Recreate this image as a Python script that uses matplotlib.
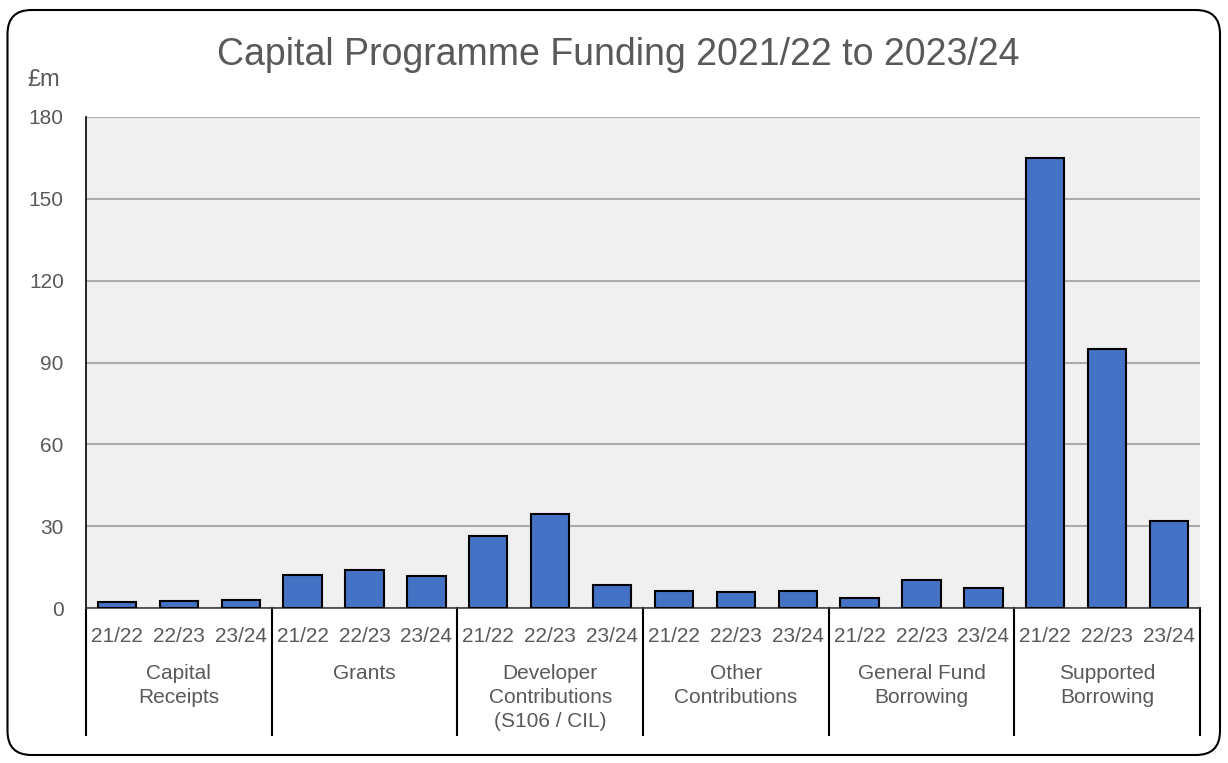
import matplotlib
matplotlib.use("Agg")
import matplotlib.pyplot as plt
from matplotlib.patches import FancyBboxPatch
import matplotlib.transforms as mtransforms

plt.rcParams['font.family'] = ['Liberation Sans', 'DejaVu Sans']

title = "Capital Programme Funding 2021/22 to 2023/24"
years = ["21/22", "22/23", "23/24"]
groups = ["Capital\nReceipts", "Grants", "Developer\nContributions\n(S106 / CIL)",
          "Other\nContributions", "General Fund\nBorrowing", "Supported\nBorrowing"]
capital_receipts = [2.2, 2.7, 2.8]
grants = [12.1, 13.8, 11.6]
developer_contrib = [26.4, 34.3, 8.3]
other_contrib = [6.3, 5.9, 6.1]
general_fund_borrowing = [3.7, 10.3, 7.3]
supported_borrowing = [164.8, 95.1, 32.0]
y_ticks = [0, 30, 60, 90, 120, 150, 180]

series = [capital_receipts, grants, developer_contrib, other_contrib,
          general_fund_borrowing, supported_borrowing]
values = [v for s in series for v in s]
labels = years * len(groups)
xpos = list(range(len(values)))

W, H = 1228, 763
fig = plt.figure(figsize=(W / 100, H / 100), dpi=100)
ax = fig.add_axes([86 / W, 1 - 608 / H, (1200 - 86) / W, (608 - 117) / H])

txt = '#595959'
ax.set_facecolor('#F0F0F0')
ax.bar(xpos, values, width=0.62, color='#4472C4', edgecolor='black', linewidth=1.5, zorder=3)
ax.set_xlim(-0.5, len(values) - 0.5)
ax.set_ylim(0, 180)
ax.set_yticks(y_ticks)
ax.yaxis.grid(True, color='#ABABAB', linewidth=1.5, zorder=0)
ax.set_axisbelow(True)
ax.tick_params(axis='y', length=0, pad=16, labelsize=15, labelcolor=txt)
ax.set_xticks(xpos)
ax.set_xticklabels(labels)
ax.tick_params(axis='x', length=0, pad=13.5, labelsize=15, labelcolor=txt)
for s in ['top', 'right']:
    ax.spines[s].set_visible(False)
ax.spines['left'].set_color('black')
ax.spines['left'].set_linewidth(1.2)
ax.spines['bottom'].set_color('#404040')
ax.spines['bottom'].set_linewidth(1.2)

trans = mtransforms.blended_transform_factory(ax.transData, ax.transAxes)
ybot = -(735 - 608) / (608 - 117)
for i in range(len(groups) + 1):
    xb = i * 3 - 0.5
    ax.plot([xb, xb], [0, ybot], transform=trans, color='black', lw=1.5, clip_on=False)
for i, g in enumerate(groups):
    ax.text(i * 3 + 1, -(664 - 608) / (608 - 117), g, transform=trans, ha='center', va='top',
            fontsize=15, color=txt, linespacing=1.33)

fig.text(618 / W, 1 - 65 / H, title, ha='center', va='baseline', fontsize=27, color=txt)
fig.text(44 / W, 1 - 80 / H, "£m", ha='center', va='center', fontsize=17, color=txt)

border = FancyBboxPatch((7.5, H - 755), 1212.5, 745,
                        boxstyle="round,pad=0,rounding_size=24",
                        transform=mtransforms.IdentityTransform(), facecolor='none',
                        edgecolor='black', linewidth=1.5)
fig.patches.append(border)

fig.savefig("out.png", dpi=100)
